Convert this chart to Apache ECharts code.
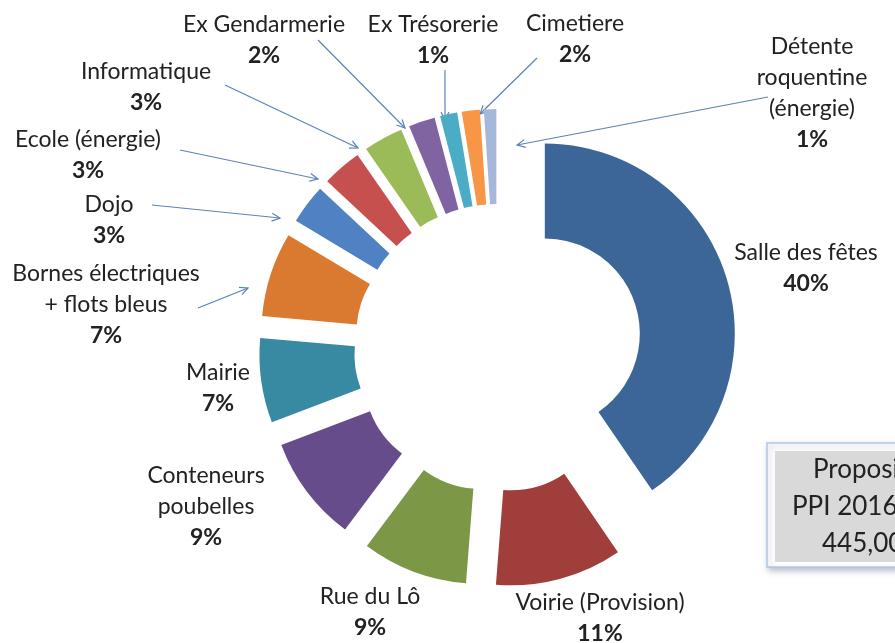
<!DOCTYPE html>
<html>
<head>
<meta charset="utf-8">
<script src="https://cdn.jsdelivr.net/npm/echarts@6/dist/echarts.min.js"></script>
<style>
  html, body { margin: 0; padding: 0; background: #ffffff; }
  #chart { width: 895px; height: 643px; }
</style>
</head>
<body>
<div id="chart"></div>
<script>
// Budget lines (k€), in clockwise order from 12 o'clock
const categories = [
  'Salle des fêtes', 'Voirie (Provision)', 'Rue du Lô', 'Conteneurs\npoubelles',
  'Mairie', 'Bornes électriques\n+ flots bleus', 'Dojo', 'Ecole (énergie)',
  'Informatique', 'Ex Gendarmerie', 'Ex Trésorerie', 'Cimetiere',
  'Détente\nroquentine\n(énergie)'
];
const amounts = [180, 48, 40, 40, 32, 32, 15, 15, 15, 10, 6.5, 6.8, 4.7];
const colors = [
  '#3d6698', '#9f3e3b', '#7c9847', '#664c8b', '#3889a2', '#da7a30',
  '#4f81c3', '#c6504d', '#9bbb59', '#8064a2', '#4bacc6', '#f79646', '#a6b8d9'
];
const boxLines = ['Proposition', 'PPI 2016 - 2020', '445,000 €'];

// Label anchor (centre x, top y) for each slice
const labelPos = [
  [806, 237], [600, 587], [370, 581], [206, 460], [218, 357], [106, 258],
  [109, 189], [88, 124], [146, 56], [264, 9], [433, 9], [575, 8], [812, 31]
];
// Leader arrows: [fromX, fromY, toX, toY]
const arrows = [
  [318, 40, 405, 128], [225, 85, 358, 148], [180, 150, 318, 179],
  [152, 205, 280, 218], [198, 308, 248, 288], [445, 70, 445, 120],
  [537, 58, 480, 114], [768, 97, 517, 145]
];

const total = amounts.reduce((a, b) => a + b, 0);
const FONT = 'Lato';
const FS = 23;
const BOX_FS = 26;
const textColor = '#222222';
const arrowColor = '#5b84b8';

const graphics = [];

// Category labels: name, then rounded share in bold
categories.forEach((name, i) => {
  const pct = Math.round(amounts[i] / total * 100);
  graphics.push({
    type: 'text', silent: true, z: 10,
    style: {
      x: labelPos[i][0], y: labelPos[i][1],
      text: '{n|' + name + '}\n{p|' + pct + '%}',
      align: 'center', verticalAlign: 'top',
      rich: {
        n: { fontFamily: FONT, fontSize: FS, fill: textColor, lineHeight: 31, align: 'center' },
        p: { fontFamily: FONT, fontSize: FS, fontWeight: 'bold', fill: textColor, lineHeight: 32, align: 'center' }
      }
    }
  });
});

arrows.forEach(([x1, y1, x2, y2]) => {
  const ang = Math.atan2(y2 - y1, x2 - x1);
  const L = 9, spread = 0.45;
  graphics.push({
    type: 'line', silent: true,
    shape: { x1, y1, x2, y2 },
    style: { stroke: arrowColor, lineWidth: 1.2 }
  });
  graphics.push({
    type: 'polyline', silent: true,
    shape: { points: [
      [x2 - L * Math.cos(ang - spread), y2 - L * Math.sin(ang - spread)],
      [x2, y2],
      [x2 - L * Math.cos(ang + spread), y2 - L * Math.sin(ang + spread)]
    ] },
    style: { stroke: arrowColor, lineWidth: 1.2, fill: null }
  });
});

// Summary box at the bottom right
graphics.push({
  type: 'rect', silent: true,
  shape: { x: 767, y: 443, width: 220, height: 124 },
  style: {
    fill: '#ffffff', stroke: '#b4c6de', lineWidth: 1.5,
    shadowColor: 'rgba(120,140,170,0.55)', shadowBlur: 6, shadowOffsetX: 2, shadowOffsetY: 3
  }
});
graphics.push({
  type: 'rect', silent: true,
  shape: { x: 775, y: 451, width: 210, height: 111 },
  style: { fill: '#d9d9d9' }
});
const boxStarts = [813, 792, 822];
boxLines.forEach((t, i) => {
  graphics.push({
    type: 'text', silent: true,
    style: {
      x: boxStarts[i], y: 470 + i * 37, text: t,
      fill: textColor, font: BOX_FS + 'px ' + FONT,
      align: 'left', verticalAlign: 'middle'
    }
  });
});

const chart = echarts.init(document.getElementById('chart'), null, { renderer: 'canvas' });
chart.setOption({
  animation: false,
  backgroundColor: '#ffffff',
  series: [{
    type: 'pie',
    center: [498, 348],
    radius: [95, 190],
    startAngle: 90,
    clockwise: true,
    selectedMode: 'multiple',
    selectedOffset: 49,
    emphasis: { disabled: true },
    data: categories.map((name, i) => ({
      name, value: amounts[i], selected: true,
      itemStyle: { color: colors[i] }
    })),
    label: { show: false },
    labelLine: { show: false }
  }],
  graphic: graphics
});
</script>
</body>
</html>
